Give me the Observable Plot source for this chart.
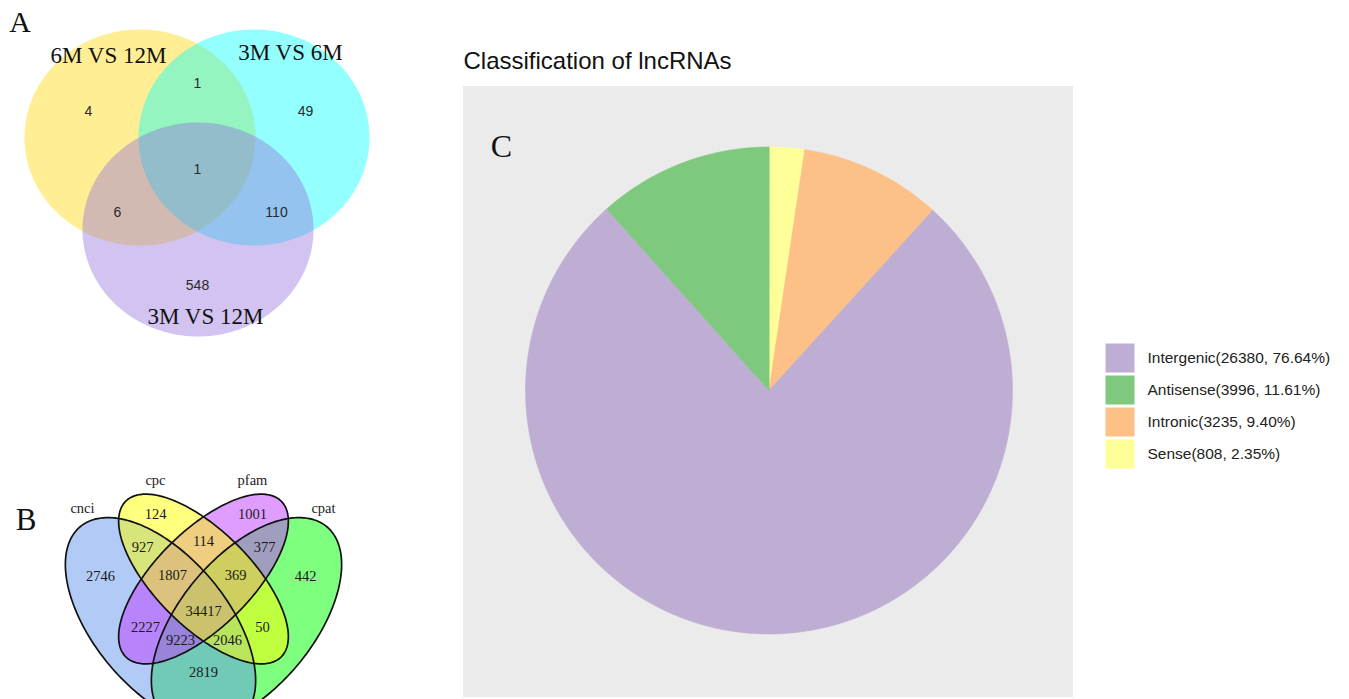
<!DOCTYPE html>
<html>
<head>
<meta charset="utf-8">
<script src="https://cdn.jsdelivr.net/npm/d3@7"></script>
<script src="https://cdn.jsdelivr.net/npm/@observablehq/plot@0.6"></script>
<style>
  html, body { margin: 0; padding: 0; background: #fff; overflow: hidden; }
  #chart { width: 1349px; height: 699px; }
  #chart svg { display: block; }
</style>
</head>
<body>
<div id="chart"></div>
<script>
// ---------------- DATA ----------------
// Panel A: three-set Venn
const vennASets = ["6M VS 12M", "3M VS 6M", "3M VS 12M"];
const vennACounts = [4, 1, 49, 1, 6, 110, 548];
// Panel B: four-set Venn
const vennBSets = ["cnci", "cpc", "pfam", "cpat"];
const vennBCounts = [124, 1001, 927, 114, 377, 2746, 1807, 369, 442, 34417, 2227, 50, 9223, 2046, 2819];
// Panel C: pie
const pieTitle = "Classification of lncRNAs";
const pieCategories = ["Intergenic", "Antisense", "Intronic", "Sense"];
const pieCounts = [26380, 3996, 3235, 808];
const pieClockwiseOrder = ["Sense", "Intronic", "Intergenic", "Antisense"];
const panelLetters = ["A", "B", "C"];

// ---------------- LAYOUT / STYLE ----------------
const W = 1349, H = 699;
const SERIF = "Liberation Serif, Times New Roman, serif";
const SANS = "Liberation Sans, Arial, Helvetica, sans-serif";

const layoutA = {
  shapes: [
    {cx: 139.5, cy: 137, rx: 115.5, ry: 108, fill: "#FFD700"},
    {cx: 253.5, cy: 137, rx: 115.5, ry: 108, fill: "#00FFFF"},
    {cx: 197.5, cy: 229, rx: 115.5, ry: 107, fill: "#9370DB"}
  ],
  opacity: 0.42,
  setXY: [[108, 55], [290, 52.5], [205, 316]],
  countXY: [[88, 111], [197, 83], [305, 111], [197, 169], [117, 212], [276, 212], [197, 285]]
};

const layoutB = {
  shapes: [
    {cx: 160, cy: 622, a: 125, b: 66.5, angle: 50, fill: "#6495ED"},
    {cx: 203, cy: 578.5, a: 110, b: 48, angle: 45, fill: "#FFFF00"},
    {cx: 203, cy: 578.5, a: 110, b: 48, angle: -45, fill: "#BF3EFF"},
    {cx: 246, cy: 622, a: 125, b: 66.5, angle: -50, fill: "#00FF00"}
  ],
  drawOrder: [3, 0, 2, 1],
  opacity: 0.5,
  setXY: [[82, 508], [155, 480], [252, 480], [323, 508]],
  countXY: [[155, 514], [252, 514], [142, 547], [203, 541], [264, 547],
            [100, 576], [172, 575], [235, 575], [305, 576],
            [203, 611], [145, 627], [262, 627], [180, 640], [227, 640], [203, 672]]
};

const layoutC = {
  panel: {x1: 463, x2: 1073, y1: 86, y2: 697},
  cx: 768.5, cy: 390, r: 243.5,
  colors: {Intergenic: "#BEAED4", Antisense: "#7FC97F", Intronic: "#FDC086", Sense: "#FFFF99"},
  titleXY: [463, 61],
  legendX: 1105, legendY: 343, keyW: 30, keyH: 30, legendStep: 32, legendTextX: 1147
};
const letterXY = [[19.5, 22, 30], [25.5, 520, 31], [501, 146, 32]];

// ---------------- GEOMETRY HELPERS ----------------
function ellipsePts(id, cx, cy, rx, ry, angleDeg) {
  const t = angleDeg * Math.PI / 180, pts = [];
  for (let i = 0; i < 240; i++) {
    const p = i / 240 * 2 * Math.PI;
    const u = rx * Math.cos(p), v = ry * Math.sin(p);
    pts.push({id, x: cx + u * Math.cos(t) - v * Math.sin(t), y: cy + u * Math.sin(t) + v * Math.cos(t)});
  }
  return pts;
}

// Pie slices, clockwise from 12 o'clock
const total = d3.sum(pieCounts);
const pieRows = pieCategories.map((c, i) => ({category: c, count: pieCounts[i], pct: pieCounts[i] / total * 100}));
const pieOrdered = pieClockwiseOrder.map(c => pieRows.find(r => r.category === c));
const arcs = d3.pie().sort(null).value(d => d.count)(pieOrdered);
function arcPts(a) {
  const pts = [{x: layoutC.cx, y: layoutC.cy}];
  const n = Math.max(4, Math.ceil((a.endAngle - a.startAngle) / 0.005));
  for (let i = 0; i <= n; i++) {
    const ang = a.startAngle + (a.endAngle - a.startAngle) * i / n;
    pts.push({x: layoutC.cx + layoutC.r * Math.sin(ang), y: layoutC.cy - layoutC.r * Math.cos(ang)});
  }
  return pts;
}

// ---------------- MARKS ----------------
const marks = [];

// Panel A ellipses
layoutA.shapes.forEach((s, i) => {
  marks.push(Plot.line(ellipsePts(vennASets[i], s.cx, s.cy, s.rx, s.ry, 0),
    {x: "x", y: "y", curve: "linear-closed", fill: s.fill, fillOpacity: layoutA.opacity, stroke: "none"}));
});
marks.push(Plot.text(vennASets, {
  x: (d, i) => layoutA.setXY[i][0], y: (d, i) => layoutA.setXY[i][1], text: d => d,
  fontFamily: SERIF, fontSize: 23, fill: "#111", lineAnchor: "middle"
}));
marks.push(Plot.text(vennACounts, {
  x: (d, i) => layoutA.countXY[i][0], y: (d, i) => layoutA.countXY[i][1], text: d => String(d),
  fontFamily: SANS, fontSize: 14, fill: "#2a2a2a", lineAnchor: "middle"
}));

// Panel B ellipses (fills, then outlines)
layoutB.drawOrder.forEach(i => {
  const s = layoutB.shapes[i];
  marks.push(Plot.line(ellipsePts(vennBSets[i], s.cx, s.cy, s.a, s.b, s.angle),
    {x: "x", y: "y", curve: "linear-closed", fill: s.fill, fillOpacity: layoutB.opacity, stroke: "none"}));
});
layoutB.shapes.forEach((s, i) => {
  marks.push(Plot.line(ellipsePts(vennBSets[i], s.cx, s.cy, s.a, s.b, s.angle),
    {x: "x", y: "y", curve: "linear-closed", fill: "none", stroke: "#111", strokeWidth: 1.7}));
});
marks.push(Plot.text(vennBSets, {
  x: (d, i) => layoutB.setXY[i][0], y: (d, i) => layoutB.setXY[i][1], text: d => d,
  fontFamily: SERIF, fontSize: 14.5, fill: "#222", lineAnchor: "middle"
}));
marks.push(Plot.text(vennBCounts, {
  x: (d, i) => layoutB.countXY[i][0], y: (d, i) => layoutB.countXY[i][1], text: d => String(d),
  fontFamily: SERIF, fontSize: 14.5, fill: "#1a1a1a", lineAnchor: "middle"
}));

// Panel C background and pie
marks.push(Plot.rect([layoutC.panel], {x1: "x1", x2: "x2", y1: "y1", y2: "y2", fill: "#EBEBEB"}));
arcs.forEach(a => {
  const col = layoutC.colors[a.data.category];
  marks.push(Plot.line(arcPts(a), {x: "x", y: "y", curve: "linear-closed", fill: col, stroke: col, strokeWidth: 0.6}));
});
marks.push(Plot.text([pieTitle], {
  x: () => layoutC.titleXY[0], y: () => layoutC.titleXY[1], text: d => d,
  fontFamily: SANS, fontSize: 24, fill: "#111", textAnchor: "start", lineAnchor: "middle"
}));
// Legend
marks.push(Plot.rect(pieRows, {
  x1: () => layoutC.legendX, x2: () => layoutC.legendX + layoutC.keyW,
  y1: (d, i) => layoutC.legendY + i * layoutC.legendStep,
  y2: (d, i) => layoutC.legendY + i * layoutC.legendStep + layoutC.keyH,
  fill: d => layoutC.colors[d.category], stroke: "white", strokeWidth: 1
}));
marks.push(Plot.text(pieRows, {
  x: () => layoutC.legendTextX,
  y: (d, i) => layoutC.legendY + i * layoutC.legendStep + layoutC.keyH / 2,
  text: d => `${d.category}(${d.count}, ${d.pct.toFixed(2)}%)`,
  fontFamily: SANS, fontSize: 15.5, fill: "#222", textAnchor: "start", lineAnchor: "middle"
}));

// Panel letters
marks.push(Plot.text(panelLetters, {
  x: (d, i) => letterXY[i][0], y: (d, i) => letterXY[i][1], text: d => d,
  fontFamily: SERIF, fontSize: (d, i) => letterXY[i][2], fill: "#111", lineAnchor: "middle"
}));

const chart = Plot.plot({
  width: W, height: H,
  margin: 0,
  x: {type: "linear", domain: [0, W], range: [0, W], axis: null},
  y: {type: "linear", domain: [0, H], range: [0, H], axis: null},
  style: {background: "white", overflow: "hidden"},
  marks
});
document.getElementById("chart").appendChild(chart);
</script>
</body>
</html>
